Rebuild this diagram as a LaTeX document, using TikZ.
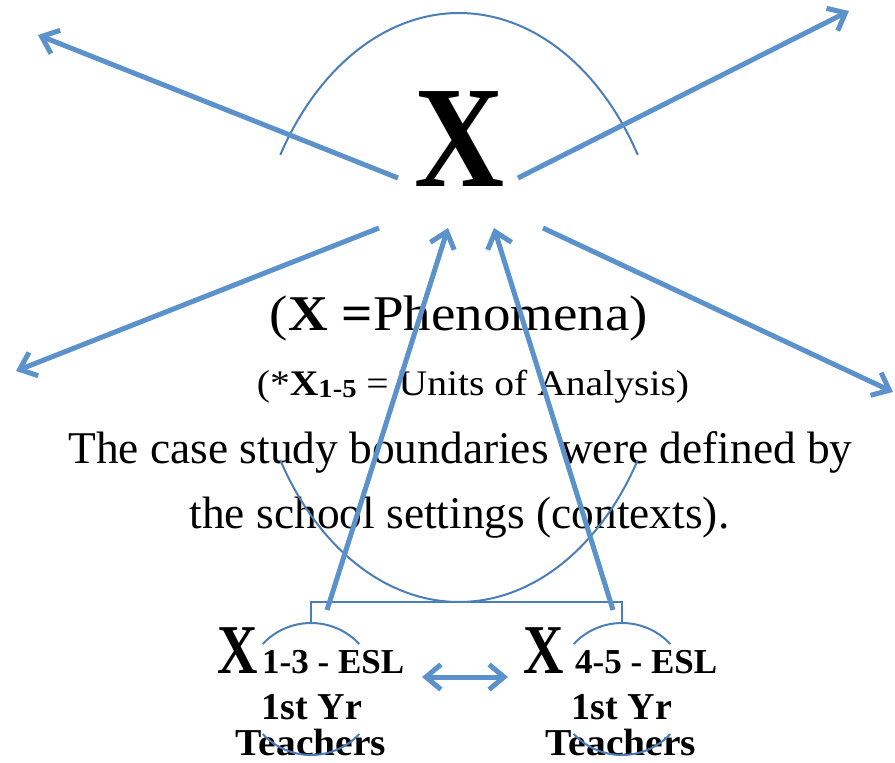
\documentclass[tikz,border=0pt]{standalone}
\usepackage{fontspec}
\usepackage{graphicx}
\setmainfont{Liberation Serif}
\usetikzlibrary{arrows.meta}
\definecolor{arrowblue}{RGB}{91,146,204}
\definecolor{lineblue}{RGB}{74,126,187}
\begin{document}
\begin{tikzpicture}[x=1pt,y=-1pt,
  tip/.tip={Straight Barb[length=15pt,width=25pt]},
  bigarrow/.style={draw=arrowblue, line width=5pt, -tip},
  outline/.style={draw=lineblue, line width=2pt},
  lbl/.style={inner sep=0pt, anchor=base, text=black}]
\useasboundingbox (0,0) rectangle (895,763);

% ---- texts ----
\node[lbl] (X) at (460,186) {\fontsize{145}{150}\selectfont\bfseries\scalebox{0.86}[1]{X}};
\node[lbl] (phen) at (459,330) {\scalebox{1.1}[1]{\fontsize{50}{58}\selectfont(\textbf{X =}Phenomena)}};
\node[lbl] (units) at (473,395) {\scalebox{1.1}[1]{\fontsize{36}{42}\selectfont(*\textbf{X}\raisebox{-2pt}{\fontsize{26}{30}\selectfont\textbf{1-5}} = Units of Analysis)}};
\node[lbl] (case1) at (460.5,463) {\fontsize{45.4}{54}\selectfont The case study boundaries were defined by};
\node[lbl] (case2) at (459.5,528) {\fontsize{45.4}{54}\selectfont the school settings (contexts).};

\node[lbl] (xa) at (237.5,673) {\fontsize{70}{80}\selectfont\bfseries\scalebox{0.8}[1]{X}};
\node[lbl, anchor=base west] (esla) at (262,673) {\fontsize{35}{40}\selectfont\bfseries 1-3 - ESL};
\node[lbl] (yra) at (312,719) {\fontsize{38}{44}\selectfont\bfseries 1st Yr};
\node[lbl] (tea) at (311,755) {\scalebox{1.04}[1]{\fontsize{38}{44}\selectfont\bfseries Teachers}};

\node[lbl] (xb) at (544,673) {\fontsize{70}{80}\selectfont\bfseries\scalebox{0.8}[1]{X}};
\node[lbl, anchor=base west] (eslb) at (575,673) {\fontsize{35}{40}\selectfont\bfseries 4-5 - ESL};
\node[lbl] (yrb) at (622,719) {\fontsize{38}{44}\selectfont\bfseries 1st Yr};
\node[lbl] (teb) at (621,755) {\scalebox{1.04}[1]{\fontsize{38}{44}\selectfont\bfseries Teachers}};

% ---- boundary ellipse arcs ----
\draw[outline] plot[smooth, domain=211.2:328.8, samples=60] ({459+209*cos(\x)},{307.5+294.5*sin(\x)});
\draw[outline] plot[smooth, domain=31.2:148.8, samples=60] ({459+209*cos(\x)},{307.5+294.5*sin(\x)});

% ---- small arcs round the units ----
\draw[outline] plot[smooth, domain=223:317, samples=40] ({311+66*cos(\x)},{689+66*sin(\x)});
\draw[outline] plot[smooth, domain=43:137, samples=40] ({311+66*cos(\x)},{689+66*sin(\x)});
\draw[outline] plot[smooth, domain=223:317, samples=40] ({622+66*cos(\x)},{689+66*sin(\x)});
\draw[outline] plot[smooth, domain=43:137, samples=40] ({622+66*cos(\x)},{689+66*sin(\x)});

% ---- bracket ----
\coordinate (bla) at (311,623);
\coordinate (blt) at (311,602);
\coordinate (brt) at (622,602);
\coordinate (bra) at (622,623);
\draw[outline, line width=1.8pt] (bla) -- (blt) -- (brt) -- (bra);

% ---- arrows ----
\coordinate (ulT) at (398,178);  \coordinate (ulH) at (38,35);
\coordinate (urT) at (518,178);  \coordinate (urH) at (849,11);
\coordinate (llT) at (379,228);  \coordinate (llH) at (16,371);
\coordinate (lrT) at (543,228);  \coordinate (lrH) at (893,392);
\coordinate (uaT) at (327,610);  \coordinate (uaH) at (448,228);
\coordinate (ubT) at (613,610);  \coordinate (ubH) at (494,228);
\coordinate (dA) at (422,677);   \coordinate (dB) at (508,677);

\draw[bigarrow] (ulT) -- (ulH);
\draw[bigarrow] (urT) -- (urH);
\draw[bigarrow] (llT) -- (llH);
\draw[bigarrow] (lrT) -- (lrH);
\draw[bigarrow] (uaT) -- (uaH);
\draw[bigarrow] (ubT) -- (ubH);
\draw[bigarrow, tip-tip] (dA) -- (dB);
\end{tikzpicture}
\end{document}
